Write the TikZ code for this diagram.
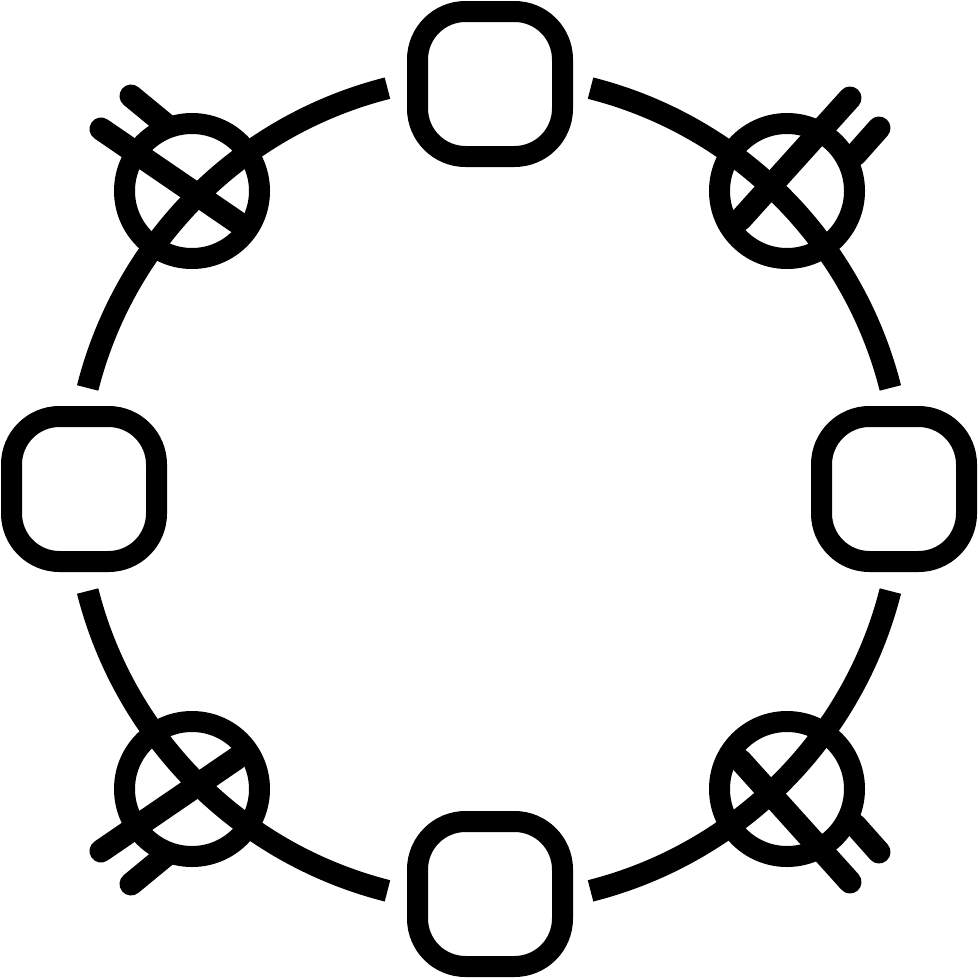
\documentclass[tikz,border=0pt]{standalone}
\begin{document}
\begin{tikzpicture}[x=1pt,y=-1pt,
  ring/.style={line width=22pt, line cap=butt},
  sqbox/.style={draw, line width=21pt, rounded corners=48pt, minimum size=145pt, inner sep=0pt},
  hub/.style={draw, circle, line width=21pt, minimum size=135pt, inner sep=0pt},
  bar/.style={line width=23pt, line cap=round}]
\useasboundingbox (0,0) rectangle (978,980);
\coordinate (O) at (489,489.5);
% big ring arcs between squares
\draw[ring] (O) ++(14.2:414) arc[start angle=14.2, end angle=75.8, radius=414];
\draw[ring] (O) ++(104.2:414) arc[start angle=104.2, end angle=165.8, radius=414];
\draw[ring] (O) ++(194.2:414) arc[start angle=194.2, end angle=255.8, radius=414];
\draw[ring] (O) ++(284.2:414) arc[start angle=284.2, end angle=345.8, radius=414];
% squares
\node[sqbox] (top) at (490,84) {};
\node[sqbox] (left) at (84,489) {};
\node[sqbox] (right) at (894,489) {};
\node[sqbox] (bottom) at (490,894) {};
% hubs
\node[hub] (tl) at (192,191) {};
\node[hub] (tr) at (787,191) {};
\node[hub] (bl) at (192,789) {};
\node[hub] (br) at (787,789) {};
% bars
\coordinate (tla) at (101,129); \coordinate (tlb) at (237,222);
\coordinate (tlc) at (131,96);  \coordinate (tld) at (165,124);
\draw[bar] (tla) -- (tlb); \draw[bar] (tlc) -- (tld);
\coordinate (tra) at (850,98);  \coordinate (trb) at (740,220);
\coordinate (trc) at (879,128); \coordinate (trd) at (855,155);
\draw[bar] (tra) -- (trb); \draw[bar] (trc) -- (trd);
\coordinate (bra) at (850,882); \coordinate (brb) at (740,760);
\coordinate (brc) at (879,852); \coordinate (brd) at (855,825);
\draw[bar] (bra) -- (brb); \draw[bar] (brc) -- (brd);
\coordinate (bla) at (101,851); \coordinate (blb) at (237,758);
\coordinate (blc) at (131,884); \coordinate (bld) at (165,856);
\draw[bar] (bla) -- (blb); \draw[bar] (blc) -- (bld);
\end{tikzpicture}
\end{document}
